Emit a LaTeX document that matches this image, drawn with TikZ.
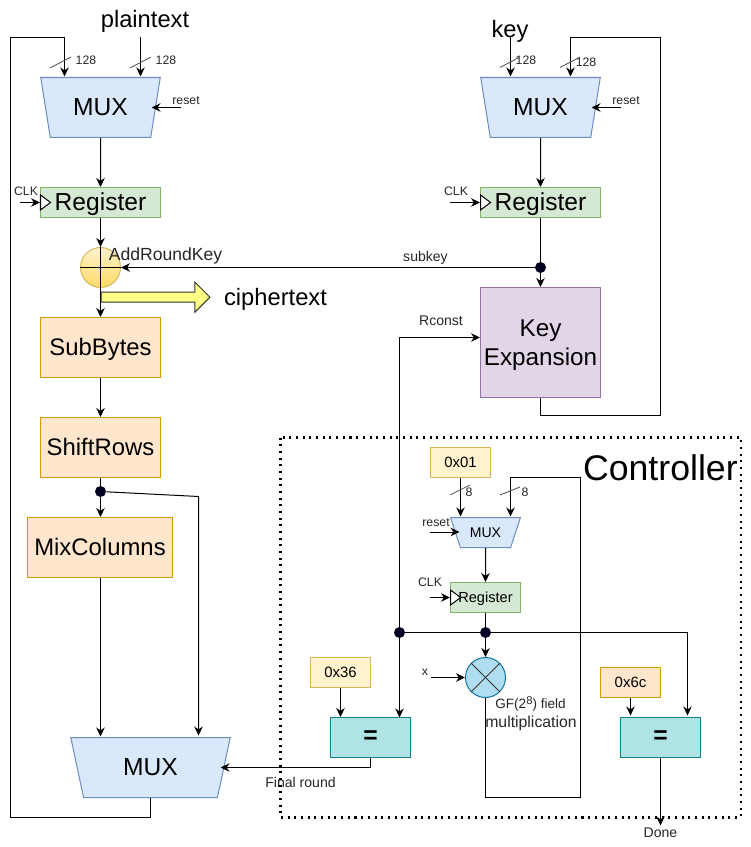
\documentclass[tikz,border=0pt]{standalone}
\usepackage{fontspec}
\setmainfont{Liberation Sans}
\usetikzlibrary{arrows.meta,shapes.geometric,shapes.arrows}

\definecolor{muxfill}{HTML}{DAE8FC}
\definecolor{muxline}{HTML}{6C8EBF}
\definecolor{regfill}{HTML}{D5E8D4}
\definecolor{regline}{HTML}{82B366}
\definecolor{stepfill}{HTML}{FFE6CC}
\definecolor{stepline}{HTML}{D79B00}
\definecolor{constfill}{HTML}{FFF2CC}
\definecolor{constline}{HTML}{D6B656}
\definecolor{xorfill}{HTML}{FFD966}
\definecolor{outfill}{HTML}{FFFF88}
\definecolor{expfill}{HTML}{E1D5E7}
\definecolor{expline}{HTML}{9673A6}
\definecolor{eqfill}{HTML}{B0E3E6}
\definecolor{eqline}{HTML}{0E8088}
\definecolor{mulfill}{HTML}{B1DDF0}
\definecolor{mulline}{HTML}{10739E}
\definecolor{dotfill}{HTML}{000020}

\tikzset{
  wire/.style={line width=0.57pt,-{Stealth[length=1.8mm,width=1.7mm]}},
  line/.style={line width=0.57pt},
  slash/.style={line width=0.5pt,black!65},
  capbig/.style={text height=8.9pt,text depth=0pt},
  capsmall/.style={text height=5.2pt,text depth=0pt},
  muxbig/.style={trapezium,shape border rotate=180,trapezium stretches=true,draw=muxline,fill=muxfill,capbig,
    line width=0.57pt,inner sep=0pt,minimum height=1.2cm,font=\fontsize{14}{16}\selectfont},
  box/.style={rectangle,line width=0.57pt,inner sep=0pt,font=\fontsize{14}{16}\selectfont},
  reg/.style={box,capbig,draw=regline,fill=regfill,minimum width=2.4cm,minimum height=0.6cm},
  stepbox/.style={box,capbig,draw=stepline,fill=stepfill,minimum width=2.4cm,minimum height=1.2cm,font=\fontsize{13.6}{15}\selectfont},
  const/.style={box,capsmall,minimum width=1.2cm,minimum height=0.6cm,font=\fontsize{8.5}{10}\selectfont},
  eqbox/.style={box,draw=eqline,fill=eqfill,minimum width=1.6cm,minimum height=0.8cm,font=\fontsize{14}{16}\selectfont\bfseries},
  junction/.style={circle,fill=dotfill,inner sep=0pt,minimum size=0.22cm},
  clktri/.style={draw,fill=white,line width=0.57pt},
  big/.style={inner sep=0pt,font=\fontsize{13.5}{15}\selectfont},
  small/.style={inner sep=0pt,text=black!85,font=\fontsize{7}{8}\selectfont},
  mid/.style={inner sep=0pt,text=black!85,font=\fontsize{8}{9}\selectfont}
}

\begin{document}
\begin{tikzpicture}[x=0.02cm,y=-0.02cm]
\useasboundingbox (0.5,0.5) rectangle (750.5,847.5);

\node[muxbig,minimum width=2.4cm,trapezium angle=71.57] (muxP) at (101,108) {MUX};
\node[reg] (regP) at (101,203) {Register};
\node[circle,draw=constline,top color=constfill,bottom color=xorfill,line width=0.57pt,
  inner sep=0pt,minimum size=0.8cm] (xor) at (101,268) {};
\node[stepbox] (sub) at (101,348) {SubBytes};
\node[stepbox] (shift) at (101,448) {ShiftRows};
\node[junction] (dotS) at (101,492) {};
\node[stepbox,minimum width=2.9cm] (mix) at (100.5,548) {MixColumns};
\node[muxbig,minimum width=3.2cm,trapezium angle=71.57] (muxO) at (151,768) {MUX};
\node[single arrow,draw=black!80,fill=outfill,line width=0.57pt,anchor=tail,inner sep=0pt,inner ysep=0.09cm,
  minimum height=2.18cm,single arrow head extend=0.2cm,single arrow head indent=0cm] (out) at (101,297.7) {};

\node[muxbig,minimum width=2.4cm,trapezium angle=71.57] (muxK) at (541,108) {MUX};
\node[reg] (regK) at (541,203) {Register};
\node[junction] (dotK) at (541,268) {};
\node[box,draw=expline,fill=expfill,minimum width=2.4cm,minimum height=2.2cm,align=center,
  font=\fontsize{13.8}{16.4}\selectfont] (exp) at (541,343) {\rule{0pt}{12.6pt}Key\\Expansion};

\node[const,draw=constline,fill=constfill] (c01) at (461,463) {0x01};
\node[muxbig,capsmall,minimum width=1.4cm,minimum height=0.6cm,trapezium angle=56.3,font=\fontsize{8}{10}\selectfont] (muxC) at (486,533) {MUX};
\node[box,capsmall,draw=regline,fill=regfill,minimum width=1.4cm,minimum height=0.6cm,font=\fontsize{8.3}{10}\selectfont] (regC) at (486,598) {Register};
\node[junction] (dotA) at (400,633) {};
\node[junction] (dotB) at (486,633) {};
\node[circle,draw=mulline,fill=mulfill,line width=0.57pt,inner sep=0pt,minimum size=0.8cm] (mul) at (486,678) {};
\node[const,draw=constline,fill=constfill] (c36) at (341,673) {0x36};
\node[const,draw=stepline,fill=stepfill] (c6c) at (631,683) {0x6c};
\node[eqbox] (eqA) at (371,738) {=};
\node[eqbox] (eqB) at (661,738) {=};

\node[big] (lblP) at (145.5,22) {plaintext};
\node[big] (lblK) at (510.5,32) {key};
\node[big] (lblC) at (276,299.5) {ciphertext};
\node[inner sep=0pt,anchor=east,font=\fontsize{20.3}{24}\selectfont] (lblT) at (738.5,468.5) {Controller};
\node[inner sep=0pt,text=black!85,font=\fontsize{10}{11}\selectfont] (lblA) at (166,256.5) {AddRoundKey};
\node[mid] (lblS) at (426,258.5) {subkey};
\node[mid] (lblR) at (441.5,321) {Rconst};
\node[mid] (lblF) at (301,783) {Final round};
\node[mid] (lblD) at (661,833) {Done};
\node[inner sep=0pt,text=black!85,font=\fontsize{7.7}{9}\selectfont] (lblG) at (531,704.5) {GF(2\raisebox{0.55ex}{\fontsize{6.4}{7}\selectfont 8}) field};
\node[inner sep=0pt,text=black!85,font=\fontsize{9}{10}\selectfont] (lblM) at (531.5,723.5) {multiplication};
\node[small] (lblX) at (425.5,673) {x};
\node[small] (b1) at (86.5,61) {128};
\node[small] (b2) at (166.5,61) {128};
\node[small] (b3) at (526.5,61) {128};
\node[small] (b4) at (586.5,63) {128};
\node[small] (b5) at (469.5,493) {8};
\node[small] (b6) at (525.5,493) {8};
\node[small] (rstP) at (186.5,101) {reset};
\node[small] (rstK) at (626.5,101) {reset};
\node[small] (rstC) at (436.5,523) {reset};
\node[small] (clkP) at (26.5,192) {CLK};
\node[small] (clkK) at (456.5,192) {CLK};
\node[small] (clkC) at (430.5,583) {CLK};

\coordinate (inP1) at (65,77);
\coordinate (inP2) at (141,77);
\coordinate (srcP2) at (141,38);
\coordinate (fbP2) at (11,818);
\coordinate (fbP3) at (11,38);
\coordinate (fbP4) at (65,38);
\coordinate (inK1) at (511,77);
\coordinate (srcK1) at (511,38);
\coordinate (inK2) at (571,77);
\coordinate (fbK1) at (571,38);
\coordinate (fbK2) at (661,38);
\coordinate (fbK3) at (661,416);
\coordinate (fbK4) at (541,416);
\coordinate (inO1) at (101,737);
\coordinate (inO2) at (199,736);
\coordinate (bend) at (199,497);
\coordinate (corner) at (401,338);
\coordinate (inC1) at (461,517);
\coordinate (inC2) at (511,517);
\coordinate (fbC1) at (511,478);
\coordinate (fbC2) at (581,478);
\coordinate (fbC3) at (581,798);
\coordinate (fbC4) at (486,798);
\coordinate (inEq) at (400,718);
\coordinate (inEqB) at (688,716);
\coordinate (bendB) at (688,633);
\coordinate (outA) at (371,768);
\coordinate (inO3) at (221,768);
\coordinate (outB) at (661,826);
\coordinate (srcRP) at (181,108);
\coordinate (inRP) at (152,108);
\coordinate (srcRK) at (621,108);
\coordinate (inRK) at (592,108);
\coordinate (srcRC) at (430,532.5);
\coordinate (inRC) at (460,532.5);
\coordinate (srcX) at (431,678);
\coordinate (srcCP) at (20.5,203);
\coordinate (srcCK) at (450.5,203);
\coordinate (srcCC) at (430.5,598);

\draw[wire] (muxP) -- (regP);
\draw[wire] (regP) -- (xor);
\draw[wire] (xor) -- (sub);
\draw[wire] (sub) -- (shift);
\draw[line] (shift) -- (dotS);
\draw[wire] (dotS) -- (mix.north -| dotS);
\draw[wire] (mix.south -| inO1) -- (inO1);
\draw[wire] (dotS) -- (bend) -- (inO2);
\draw[wire] (muxO.south) |- (fbP2) -- (fbP3) -- (fbP4) -- (inP1);
\draw[wire] (srcP2) -- (inP2);
\draw[wire] (srcK1) -- (inK1);
\draw[wire] (exp.south) -- (fbK4) -- (fbK3) -- (fbK2) -- (fbK1) -- (inK2);
\draw[wire] (muxK) -- (regK);
\draw[line] (regK) -- (dotK);
\draw[wire] (dotK) -- (exp);
\draw[wire] (dotK) -- (xor);
\draw[wire] (dotA) -- (dotA |- corner) -- (exp.west |- corner);
\draw[wire] (c01.south -| inC1) -- (inC1);
\draw[wire] (mul.south) -- (fbC4) -- (fbC3) -- (fbC2) -- (fbC1) -- (inC2);
\draw[wire] (muxC) -- (regC);
\draw[line] (regC) -- (dotB);
\draw[line] (dotA) -- (dotB);
\draw[wire] (dotB) -- (bendB) -- (inEqB);
\draw[wire] (dotB) -- (mul);
\draw[wire] (dotA) -- (inEq);
\draw[wire] (c36) -- (c36 |- eqA.north);
\draw[wire] (c6c.south) -- (c6c.south |- inEqB);
\draw[wire] (eqA.south) -- (outA) -- (inO3);
\draw[wire] (eqB) -- (outB);

\draw[line] (xor.north) -- (xor.south);
\draw[line] (xor.west) -- (xor.east);
\draw[line,black!80] (mul.north west) -- (mul.south east);
\draw[line,black!80] (mul.north east) -- (mul.south west);

\draw[slash] (50.5,68.5) -- (71.5,57.5);
\draw[slash] (130.5,68.5) -- (151.5,57.5);
\draw[slash] (500.5,68) -- (520.5,57.5);
\draw[slash] (560.5,68) -- (580.5,57.5);
\draw[slash] (450.5,495.5) -- (470.5,485.5);
\draw[slash] (500.5,495.5) -- (520.5,487.5);

\draw[wire] (srcRP) -- (inRP);
\draw[wire] (srcRK) -- (inRK);
\draw[wire] (srcRC) -- (inRC);
\draw[wire] (srcCP) -- (regP.west);
\draw[wire] (srcCK) -- (regK.west);
\draw[wire] (srcCC) -- (regC.west);
\draw[wire] (srcX) -- (mul.west);
\draw[clktri] (41,195.5) -- (51,203) -- (41,210.5) -- cycle;
\draw[clktri] (481,195.5) -- (491,203) -- (481,210.5) -- cycle;
\draw[clktri] (451,590.5) -- (461,598) -- (451,605.5) -- cycle;

\draw[line width=1.15pt,dash pattern=on 1.15pt off 2.65pt] (281,438) rectangle (741,818);
\end{tikzpicture}
\end{document}
